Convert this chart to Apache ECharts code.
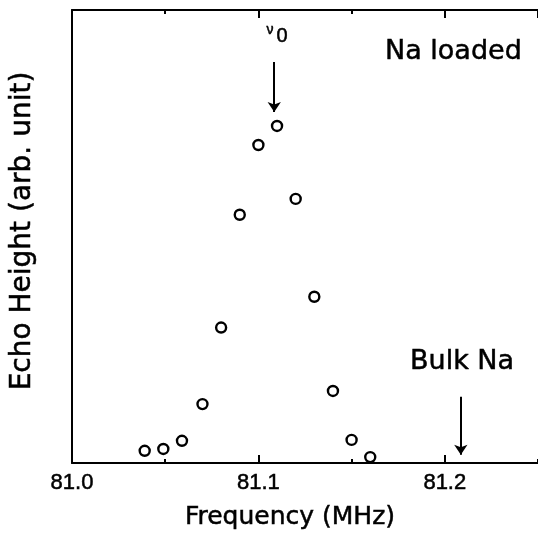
<!DOCTYPE html>
<html>
<head>
<meta charset="utf-8">
<script src="https://cdn.jsdelivr.net/npm/echarts@6/dist/echarts.min.js"></script>
<style>
  html, body { margin: 0; padding: 0; background: #fff; }
  #chart { width: 538px; height: 538px; }
</style>
</head>
<body>
<div id="chart"></div>
<script>
// frequency (MHz) and echo height (arb. unit)
const freq = [81.039, 81.049, 81.059, 81.070, 81.080, 81.090, 81.100,
              81.110, 81.120, 81.130, 81.140, 81.150, 81.160]
const echo = [2.7, 3.1, 4.9, 13.0, 29.9, 54.8, 70.2,
              74.4, 58.3, 36.7, 15.9, 5.1, 1.3]

const xLabels = ['81.0', '81.1', '81.2']

// arrows: [x, yFrom, yTo]
const nu0Arrow = [81.1085, 88.5, 77.5]
const bulkArrow = [81.2086, 14.6, 1.8]

const xMin = 81.0
const xMax = 81.25

const chart = echarts.init(document.getElementById('chart'))

const black = '#000'
const labelFont = 'Liberation Sans, Arial, sans-serif'
const titleFont = 'DejaVu Sans, sans-serif'

// the scan looks heavy, thicken the glyphs a little
function txt(text, x, y, font, align, rotation) {
  return {
    type: 'text',
    x: x,
    y: y,
    rotation: rotation || 0,
    style: {
      text: text,
      fill: black,
      stroke: black,
      lineWidth: 0.5,
      font: font,
      align: align,
      verticalAlign: 'middle'
    }
  }
}

// major ticks every 0.1 (long), minor every 0.05 (short)
function xAxisDef(position, interval, len, showLine, showLabel) {
  return {
    type: 'value',
    position: position,
    min: xMin,
    max: xMax,
    interval: interval,
    axisLine: { show: showLine, onZero: false, lineStyle: { color: black, width: 2 } },
    axisTick: {
      show: true,
      inside: true,
      length: len,
      lineStyle: { color: black, width: 2 }
    },
    axisLabel: {
      show: showLabel,
      showMaxLabel: false,
      color: black,
      fontSize: 22,
      fontFamily: labelFont,
      textBorderColor: black,
      textBorderWidth: 0.5,
      margin: 9,
      formatter: function(v) {
        const s = v.toFixed(1)
        return xLabels.indexOf(s) >= 0 && Math.abs(v - Number(s)) < 1e-6 ? s : ''
      }
    },
    splitLine: { show: false }
  }
}

chart.setOption({
  animation: false,
  backgroundColor: '#fff',
  grid: { left: 72, right: 0, top: 10, bottom: 75 },
  xAxis: [
    xAxisDef('bottom', 0.1, 8, true, true),
    xAxisDef('bottom', 0.05, 4, false, false),
    xAxisDef('top', 0.1, 8, true, false),
    xAxisDef('top', 0.05, 4, false, false)
  ],
  yAxis: [
    {
      type: 'value',
      position: 'left',
      min: 0,
      max: 100,
      axisLine: { show: true, lineStyle: { color: black, width: 2 } },
      axisTick: { show: false },
      axisLabel: { show: false },
      splitLine: { show: false }
    },
    {
      type: 'value',
      position: 'right',
      min: 0,
      max: 100,
      axisLine: { show: true, lineStyle: { color: '#999', width: 1 } },
      axisTick: { show: false },
      axisLabel: { show: false },
      splitLine: { show: false }
    }
  ],
  series: [
    {
      type: 'scatter',
      data: freq.map((f, i) => [f, echo[i]]),
      symbol: 'circle',
      symbolSize: 10,
      itemStyle: { color: '#fff', borderColor: black, borderWidth: 2.4, opacity: 1 },
      markLine: {
        silent: true,
        symbol: ['none', 'arrow'],
        symbolSize: 10,
        label: { show: false },
        lineStyle: { color: black, width: 2, type: 'solid' },
        data: [
          [{ coord: [nu0Arrow[0], nu0Arrow[1]] }, { coord: [nu0Arrow[0], nu0Arrow[2]] }],
          [{ coord: [bulkArrow[0], bulkArrow[1]] }, { coord: [bulkArrow[0], bulkArrow[2]] }]
        ]
      }
    }
  ],
  graphic: [
    txt('Frequency (MHz)', 290, 517, '25px ' + titleFont, 'center'),
    txt('Echo Height (arb. unit)', 23, 231, '28px ' + titleFont, 'center', Math.PI / 2),
    txt('Na loaded', 385, 52, '27px ' + titleFont, 'left'),
    txt('Bulk Na', 410, 362, '27px ' + titleFont, 'left'),
    txt('ν', 270, 30, '14px ' + labelFont, 'center'),
    txt('0', 282, 36, '20px ' + labelFont, 'center')
  ]
})
</script>
</body>
</html>
